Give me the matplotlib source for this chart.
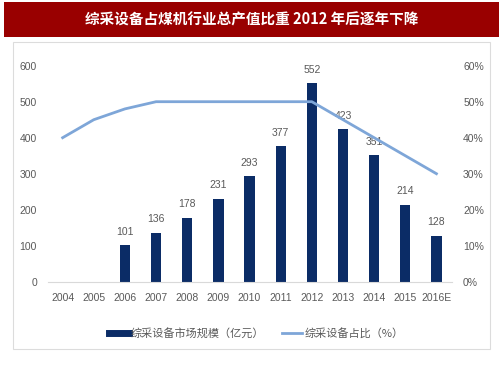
import matplotlib
matplotlib.use("Agg")
import matplotlib.pyplot as plt
from matplotlib.patches import Rectangle
from matplotlib.lines import Line2D

# data
years = ["2004", "2005", "2006", "2007", "2008", "2009", "2010",
         "2011", "2012", "2013", "2014", "2015", "2016E"]
market_size = [None, None, 101, 136, 178, 231, 293, 377, 552, 423, 351, 214, 128]
share_pct = [40, 45, 48, 50, 50, 50, 50, 50, 50, 45, 40, 35, 30]
left_ticks = [0, 100, 200, 300, 400, 500, 600]
right_ticks = [0, 10, 20, 30, 40, 50, 60]

title = "综采设备占煤机行业总产值比重 2012 年后逐年下降"
bar_label = "综采设备市场规模（亿元）"
line_label = "综采设备占比（%）"

BAR_COLOR = "#0b2c66"
LINE_COLOR = "#7ea6d8"
TEXT_GRAY = "#595959"
CJK = ["Noto Sans CJK SC", "DejaVu Sans"]
NUM = ["Liberation Sans Narrow", "Liberation Sans", "DejaVu Sans"]

plt.rcParams["font.family"] = CJK

W, H = 503, 378
fig = plt.figure(figsize=(W / 100, H / 100), dpi=100)
fig.patch.set_facecolor("white")

# title banner
fig.add_artist(Rectangle((4 / W, 1 - 37 / H), 495 / W, 35 / H,
                         transform=fig.transFigure, facecolor="#990000",
                         edgecolor="none"))
fig.text(0.5, 1 - 20 / H, title, color="white", fontsize=10.5,
         fontweight="bold", ha="center", va="center", family=CJK)

# panel border
fig.add_artist(Rectangle((13 / W, 1 - 349 / H), 477 / W, 307 / H,
                         transform=fig.transFigure, facecolor="none",
                         edgecolor="#dcdcdc", linewidth=0.8))

ax = fig.add_axes([48 / W, 1 - 281.7 / H, 404 / W, 216 / H])
x = list(range(len(years)))
bx = [i for i, v in zip(x, market_size) if v is not None]
bv = [v for v in market_size if v is not None]
bars = ax.bar(bx, bv, width=0.33, color=BAR_COLOR, zorder=2)
for xi, v in zip(bx, bv):
    ax.annotate(str(v), (xi, v), xytext=(0, 6), textcoords="offset points",
                ha="center", va="bottom", fontsize=7.5, color=TEXT_GRAY,
                family=NUM)

ax.set_xlim(-0.47, 12.5)
ax.set_ylim(0, 600)
ax.set_yticks(left_ticks)
ax.set_xticks(x)
ax.set_xticklabels(years)
for s in ["top", "right", "left"]:
    ax.spines[s].set_visible(False)
ax.spines["bottom"].set_color("#d9d9d9")
ax.tick_params(length=0, labelsize=7.5, colors=TEXT_GRAY, pad=8)
for lab in ax.get_xticklabels() + ax.get_yticklabels():
    lab.set_family(NUM)

ax2 = ax.twinx()
ax2.plot(x, share_pct, color=LINE_COLOR, linewidth=2, zorder=3)
ax2.set_ylim(0, 60)
ax2.set_yticks(right_ticks)
ax2.set_yticklabels([f"{t}%" for t in right_ticks])
for s in ax2.spines.values():
    s.set_visible(False)
ax2.tick_params(length=0, labelsize=7.5, colors=TEXT_GRAY, pad=8)
for lab in ax2.get_yticklabels():
    lab.set_family(NUM)

handles = [Line2D([0], [0], color=BAR_COLOR, linewidth=5),
           Line2D([0], [0], color=LINE_COLOR, linewidth=2)]
fig.legend(handles, [bar_label, line_label], loc="center",
           bbox_to_anchor=(256 / W, 1 - 333 / H), ncol=2, frameon=False,
           fontsize=8, handlelength=1.8, handletextpad=0.2, columnspacing=1.6,
           labelcolor=TEXT_GRAY)

fig.savefig("out.png", dpi=100)
